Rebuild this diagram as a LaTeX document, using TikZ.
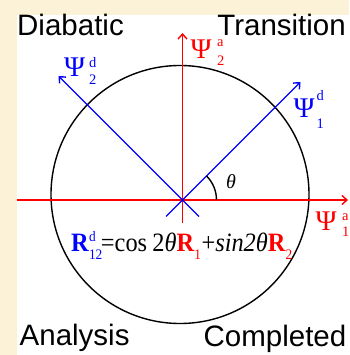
\documentclass[tikz,border=0pt]{standalone}
\usepackage{fontspec}
\setmainfont{Liberation Serif}
\newfontfamily\labelfont{Liberation Sans}
\usetikzlibrary{arrows.meta}
\definecolor{beige}{RGB}{252,242,216}
\definecolor{psired}{RGB}{255,0,0}
\definecolor{psiblue}{RGB}{0,0,255}
\newcommand{\scr}[1]{{\fontsize{14.5}{14.5}\selectfont #1}}
\begin{document}
\begin{tikzpicture}[x=1pt,y=-1pt,
  axis/.style={line width=1.4pt, -{Straight Barb[length=5pt,width=9pt]}},
  redaxis/.style={axis, draw=psired},
  blueaxis/.style={axis, draw=psiblue},
  psinode/.style={anchor=base west, inner sep=0pt, font=\fontsize{28.5}{28.5}\selectfont},
  scrnode/.style={anchor=base west, inner sep=0pt, font=\fontsize{14.5}{14.5}\selectfont},
  cornerlabel/.style={inner sep=0pt, font=\labelfont\fontsize{29.5}{29.5}\selectfont}]
\useasboundingbox (0,0) rectangle (349,355);
\fill[beige] (0,0) rectangle (349,355);
\fill[white] (16.5,15) rectangle (349,355);
% coordinates
\coordinate (O) at (182.5,200);
\coordinate (C) at (180,194.5);
\coordinate (xl) at (16.5,200);
\coordinate (xr) at (348,200);
\coordinate (yb) at (182.5,223);
\coordinate (yt) at (182.5,33);
\coordinate (d1s) at (166,216.5);
\coordinate (d1e) at (300.5,82);
\coordinate (d2s) at (199,216.5);
\coordinate (d2e) at (58.5,76);
% circle
\draw[line width=1.4pt] (C) circle[radius=129];
% axes
\draw[redaxis] (xl) -- (xr);
\draw[redaxis] (yb) -- (yt);
\draw[blueaxis] (d1s) -- (d1e);
\draw[blueaxis] (d2s) -- (d2e);
% angle
\draw[line width=1.4pt] (O) ++(34,0) arc[start angle=0,end angle=-45,radius=34];
\node[anchor=base west, inner sep=0pt, font=\fontsize{20}{20}\selectfont\itshape] (th) at (226,188) {θ};
% Psi labels
\node[psinode, text=psired] (p2a) at (190.5,59) {Ψ};
\node[scrnode, text=psired] (p2as) at (217,47) {a};
\node[scrnode, text=psired] (p2ab) at (217,65.7) {2};
\node[psinode, text=psiblue] (p2d) at (64,77) {Ψ};
\node[scrnode, text=psiblue] (p2ds) at (89,68) {d};
\node[scrnode, text=psiblue] (p2db) at (89,85) {2};
\node[psinode, text=psiblue] (p1d) at (293.5,118) {Ψ};
\node[scrnode, text=psiblue] (p1ds) at (316.5,101) {d};
\node[scrnode, text=psiblue] (p1db) at (316.5,129) {1};
\node[psinode, text=psired] (p1a) at (315.5,230) {Ψ};
\node[scrnode, text=psired] (p1as) at (342,220) {a};
\node[scrnode, text=psired] (p1ab) at (342,236.7) {1};
% formula
\node[anchor=base west, inner sep=0pt, font=\fontsize{26.5}{26.5}\selectfont] (eq) at (71,251.7)
 {\scalebox{0.92}[1]{\textcolor{psiblue}{\textbf{R}\rlap{\raisebox{10.5pt}{\scr{d}}}\raisebox{-7.5pt}{\scr{12}}}\kern-1.5pt=cos\kern-1pt{} 2\textit{θ}\textcolor{psired}{\textbf{R}\raisebox{-8pt}{\scr{1}}}\kern0.5pt+\textit{sin2θ}\textcolor{psired}{\textbf{R}\raisebox{-8pt}{\scr{2}}}}};
% corner labels
\node[cornerlabel, anchor=base west] (dia) at (17,36) {Diabatic};
\node[cornerlabel, anchor=base east] (tra) at (346,36) {Transition};
\node[cornerlabel, anchor=base west] (ana) at (19.5,345) {Analysis};
\node[cornerlabel, anchor=base east] (com) at (346.5,346.7) {Completed};
\end{tikzpicture}
\end{document}
